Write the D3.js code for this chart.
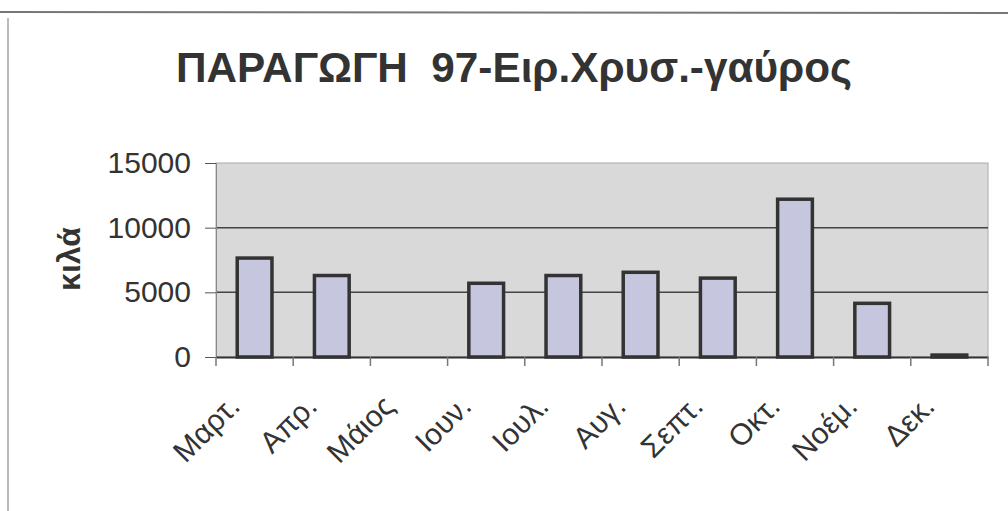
<!DOCTYPE html>
<html>
<head>
<meta charset="utf-8">
<script src="https://cdn.jsdelivr.net/npm/d3@7"></script>
<style>
  body { margin: 0; background: #fff; }
  text { font-family: "Liberation Sans", Arial, sans-serif; fill: #333; }
</style>
</head>
<body>
<svg id="chart" width="1008" height="511"></svg>
<script>
const months = ['Μαρτ.', 'Απρ.', 'Μάιος', 'Ιουν.', 'Ιουλ.', 'Αυγ.', 'Σεπτ.', 'Οκτ.', 'Νοέμ.', 'Δεκ.'];
const kilos = [7650, 6300, 0, 5700, 6300, 6550, 6100, 12200, 4150, 150];
const yTicks = [0, 5000, 10000, 15000];
const title = 'ΠΑΡΑΓΩΓΗ  97-Ειρ.Χρυσ.-γαύρος';
const yLabel = 'κιλά';

const svg = d3.select('#chart');
const m = {left: 216, right: 20, top: 163, bottom: 154};
const W = 1008, H = 511;

const x = d3.scaleBand().domain(months).range([m.left, W - m.right]).paddingInner(0.55).paddingOuter(0.275);
const xb = d3.scaleBand().domain(months).range([m.left, W - m.right]);
const y = d3.scaleLinear().domain([0, 15000]).range([H - m.bottom, m.top]);

// scanned page frame
svg.append('line').attr('x1', 0).attr('x2', W).attr('y1', 12).attr('y2', 13)
  .attr('stroke', '#777').attr('stroke-width', 2);
svg.append('line').attr('x1', 8).attr('x2', 8).attr('y1', 18).attr('y2', H)
  .attr('stroke', '#bbb').attr('stroke-width', 2);

// plot area
svg.append('rect')
  .attr('x', m.left).attr('y', m.top)
  .attr('width', W - m.right - m.left).attr('height', y(0) - m.top)
  .attr('fill', '#d9d9d9').attr('stroke', '#aaa').attr('stroke-width', 1);

svg.append('g')
  .selectAll('line').data(yTicks.filter(d => d > 0 && d < 15000)).join('line')
  .attr('x1', m.left).attr('x2', W - m.right)
  .attr('y1', d => y(d)).attr('y2', d => y(d))
  .attr('stroke', '#444').attr('stroke-width', 1.5);

// bars
svg.append('g')
  .selectAll('rect').data(months).join('rect')
  .attr('x', d => x(d))
  .attr('width', x.bandwidth())
  .attr('y', (d, i) => y(kilos[i]))
  .attr('height', (d, i) => y(0) - y(kilos[i]))
  .attr('fill', '#c6c7de')
  .attr('stroke', (d, i) => kilos[i] > 0 ? '#333' : 'none')
  .attr('stroke-width', 3.5);

// y axis
const yAxis = svg.append('g').attr('transform', `translate(${m.left},0)`)
  .call(d3.axisLeft(y).tickValues(yTicks).tickFormat(d3.format('d')).tickSize(11).tickPadding(14));
yAxis.select('.domain').attr('stroke', '#888');
yAxis.selectAll('.tick line').attr('stroke', '#555');
yAxis.selectAll('text').style('font-size', '30px').attr('fill', '#333');

// x axis
const xAxis = svg.append('g').attr('transform', `translate(0,${y(0)})`)
  .call(d3.axisBottom(xb).tickSize(0).tickFormat(''));
xAxis.select('.domain').attr('stroke', '#333').attr('stroke-width', 2);
xAxis.selectAll('.tick').remove();
svg.append('g')
  .selectAll('line').data(months.concat(['end'])).join('line')
  .attr('x1', (d, i) => i < months.length ? xb(d) : W - m.right)
  .attr('x2', (d, i) => i < months.length ? xb(d) : W - m.right)
  .attr('y1', y(0)).attr('y2', y(0) + 9)
  .attr('stroke', '#777').attr('stroke-width', 1.5);

svg.append('g')
  .selectAll('text').data(months).join('text')
  .attr('transform', d => `translate(${xb(d) + xb.bandwidth() / 2 - 13},${y(0) + 51}) rotate(-45)`)
  .attr('text-anchor', 'end')
  .style('font-size', '30px')
  .text(d => d);

// titles
svg.append('text')
  .attr('x', 176).attr('y', 82)
  .attr('xml:space', 'preserve')
  .style('white-space', 'pre')
  .attr('textLength', 676).attr('lengthAdjust', 'spacingAndGlyphs')
  .style('font-size', '42px').style('font-weight', 'bold')
  .text(title);

svg.append('text')
  .attr('transform', `translate(80,259) rotate(-90)`)
  .attr('text-anchor', 'middle')
  .style('font-size', '32px').style('font-weight', 'bold')
  .text(yLabel);
</script>
</body>
</html>
